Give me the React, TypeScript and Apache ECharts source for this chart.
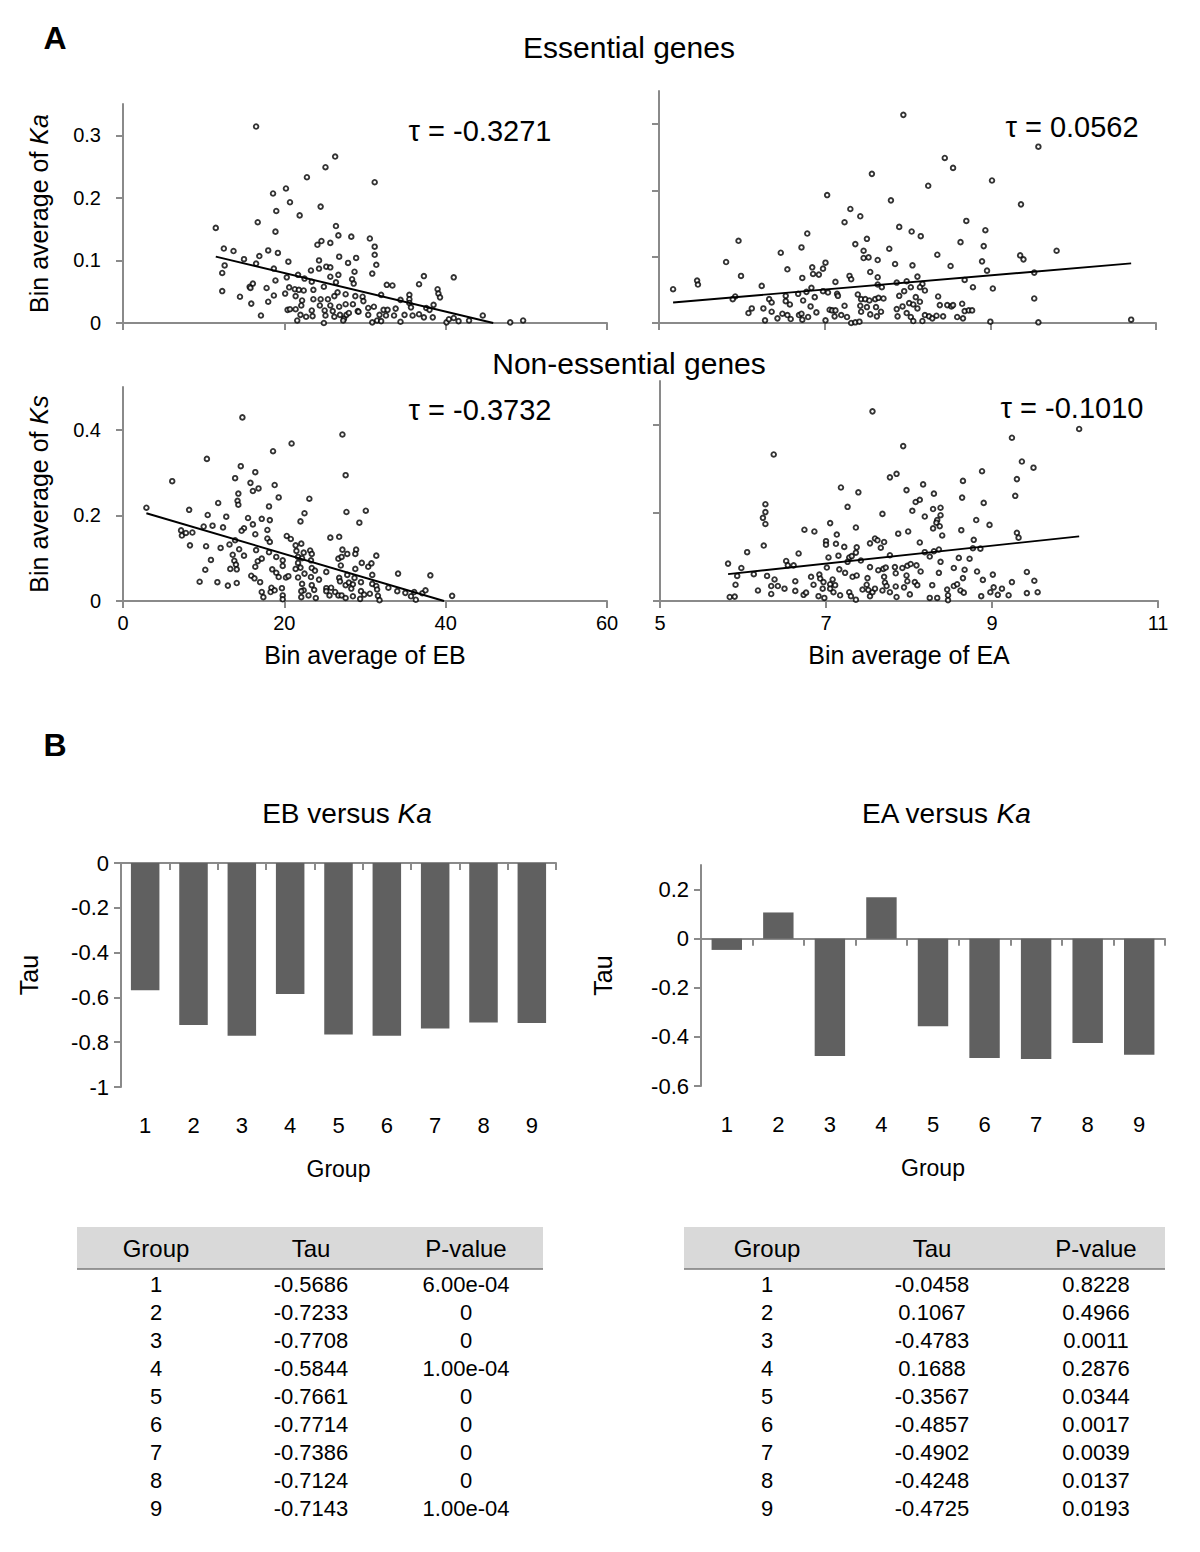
import React, { useEffect, useRef } from "react";
import * as echarts from "echarts";

// ---------- Panel A data ----------
const ebKaPoints: number[][] = [
  [16.5,0.314],[26.3,0.266],[25.1,0.249],[22.8,0.233],[20.2,0.215],[18.6,0.207],[20.7,0.193],[19.0,0.179],[24.5,0.186],[21.9,0.172],
  [16.7,0.161],[11.5,0.152],[26.4,0.155],[18.9,0.146],[26.7,0.140],[28.3,0.138],[24.6,0.131],[24.1,0.125],[25.7,0.128],[12.5,0.119],
  [13.7,0.115],[18.0,0.116],[19.2,0.112],[16.9,0.107],[15.0,0.102],[26.8,0.106],[28.9,0.104],[12.6,0.092],[16.5,0.095],[20.5,0.098],
  [24.3,0.100],[27.9,0.096],[12.3,0.080],[18.7,0.087],[23.3,0.084],[24.3,0.087],[25.2,0.090],[25.7,0.089],[28.7,0.082],[18.9,0.068],
  [20.3,0.073],[21.7,0.077],[22.5,0.071],[23.4,0.066],[24.9,0.058],[25.7,0.074],[26.7,0.077],[26.4,0.065],[28.4,0.070],[28.6,0.063],
  [12.3,0.051],[15.7,0.058],[16.1,0.063],[15.8,0.056],[17.8,0.056],[14.5,0.042],[18.7,0.044],[18.0,0.034],[15.9,0.031],[17.1,0.012],
  [20.1,0.047],[20.6,0.057],[21.3,0.054],[21.8,0.053],[22.4,0.052],[23.6,0.053],[21.4,0.043],[22.2,0.036],[23.6,0.038],[24.5,0.038],
  [25.4,0.038],[26.2,0.043],[26.6,0.049],[27.6,0.046],[28.8,0.043],[27.6,0.030],[20.4,0.021],[20.7,0.022],[21.4,0.022],[22.1,0.028],
  [22.0,0.013],[22.7,0.010],[23.4,0.020],[23.5,0.011],[21.6,0.004],[24.4,0.028],[25.0,0.020],[25.7,0.028],[24.9,0.000],[25.1,0.012],
  [26.0,0.019],[26.8,0.026],[26.2,0.010],[26.9,0.013],[27.4,0.007],[27.7,0.013],[28.0,0.016],[28.5,0.030],[29.1,0.019],[27.3,0.004],
  [31.2,0.225],[30.6,0.135],[31.2,0.122],[31.2,0.109],[31.4,0.093],[30.9,0.079],[32.7,0.061],[33.4,0.060],[37.3,0.075],[36.7,0.062],
  [39.0,0.054],[39.1,0.047],[39.3,0.041],[41.0,0.073],[32.0,0.045],[34.4,0.037],[35.5,0.045],[35.5,0.038],[35.5,0.032],[35.7,0.025],
  [29.7,0.042],[29.8,0.035],[31.1,0.026],[30.4,0.024],[32.3,0.021],[32.8,0.021],[33.8,0.023],[29.2,0.018],[30.4,0.013],[31.8,0.013],
  [32.6,0.012],[33.6,0.012],[34.9,0.013],[35.9,0.012],[36.7,0.014],[37.3,0.009],[37.6,0.024],[38.0,0.021],[38.5,0.029],[38.4,0.009],
  [30.9,0.001],[31.5,0.004],[32.0,0.003],[34.4,0.002],[40.1,0.001],[40.4,0.006],[41.0,0.008],[41.6,0.003],[42.9,0.004],[44.6,0.012],
  [48.0,0.001],[49.6,0.004]
];
const ebKaTrend: number[][] = [[11.5,0.106],[45.9,0.0]];

const eaKaPoints: number[][] = [
  [5.17,0.051],[5.46,0.064],[5.47,0.058],[5.81,0.092],[5.96,0.124],[5.99,0.071],[5.92,0.040],[5.89,0.036],[6.08,0.015],[6.12,0.022],
  [6.24,0.056],[6.26,0.022],[6.28,0.004],[6.33,0.036],[6.36,0.031],[6.36,0.017],[6.43,0.007],[6.47,0.106],[6.55,0.081],[6.53,0.041],
  [6.53,0.033],[6.58,0.028],[6.49,0.014],[6.55,0.012],[6.59,0.006],[6.72,0.114],[6.79,0.135],[6.73,0.068],[6.68,0.044],[6.74,0.034],
  [6.78,0.047],[6.69,0.012],[6.72,0.014],[6.73,0.005],[6.80,0.009],[6.85,0.084],[6.86,0.074],[6.84,0.053],[6.88,0.039],[6.83,0.025],
  [6.90,0.016],[6.93,0.073],[6.98,0.082],[7.01,0.091],[6.98,0.048],[7.04,0.046],[7.01,0.004],[7.06,0.020],[7.09,0.019],[7.03,0.193],
  [7.13,0.062],[7.13,0.019],[7.15,0.044],[7.16,0.041],[7.12,0.010],[7.20,0.012],[7.24,0.026],[7.27,0.009],[7.32,0.000],[7.37,0.001],
  [7.42,0.002],[7.24,0.152],[7.31,0.172],[7.30,0.071],[7.32,0.066],[7.37,0.119],[7.43,0.161],[7.40,0.043],[7.44,0.036],[7.43,0.026],
  [7.44,0.017],[7.47,0.109],[7.47,0.098],[7.53,0.099],[7.51,0.127],[7.57,0.225],[7.55,0.077],[7.49,0.036],[7.54,0.034],[7.51,0.024],
  [7.55,0.013],[7.64,0.095],[7.64,0.069],[7.64,0.058],[7.69,0.054],[7.61,0.036],[7.65,0.038],[7.71,0.037],[7.62,0.024],[7.68,0.017],
  [7.63,0.010],[7.78,0.112],[7.80,0.185],[7.85,0.089],[7.87,0.061],[7.90,0.145],[7.87,0.021],[7.88,0.010],[7.90,0.041],
  [7.95,0.314],[9.58,0.266],[8.45,0.249],[8.55,0.234],[9.02,0.215],[8.25,0.207],[9.37,0.179],[8.71,0.154],[8.05,0.138],[8.16,0.131],
  [8.94,0.140],[8.64,0.122],[8.92,0.116],[9.80,0.109],[8.36,0.103],[9.36,0.102],[9.40,0.096],[8.06,0.087],[8.52,0.086],[8.90,0.093],
  [8.96,0.079],[9.53,0.076],[8.12,0.070],[8.69,0.065],[7.99,0.063],[8.04,0.054],[8.18,0.059],[8.15,0.054],[8.21,0.049],[7.96,0.048],
  [8.10,0.039],[8.02,0.030],[8.15,0.032],[7.94,0.025],[8.07,0.028],[8.12,0.022],[8.37,0.040],[8.39,0.027],[8.48,0.027],[8.53,0.025],
  [8.55,0.027],[8.66,0.029],[8.79,0.054],[9.03,0.052],[9.53,0.037],[8.69,0.018],[8.74,0.019],[8.78,0.019],[7.99,0.015],[8.04,0.009],
  [8.07,0.003],[8.18,0.003],[8.21,0.012],[8.26,0.010],[8.30,0.007],[8.35,0.011],[8.43,0.010],[8.60,0.009],[8.67,0.007],[9.00,0.002],
  [9.58,0.001],[10.70,0.005]
];
const eaKaTrend: number[][] = [[5.17,0.031],[10.70,0.090]];

const ebKsPoints: number[][] = [
  [14.8,0.429],[27.2,0.389],[20.9,0.368],[18.6,0.350],[10.4,0.332],[14.6,0.315],[16.4,0.301],[27.6,0.294],[6.1,0.280],[13.9,0.287],
  [15.8,0.276],[16.8,0.263],[16.1,0.257],[18.8,0.271],[14.3,0.251],[14.2,0.234],[14.3,0.225],[11.8,0.229],[19.3,0.242],[18.1,0.221],
  [23.1,0.239],[22.5,0.205],[22.0,0.186],[27.7,0.208],[2.9,0.218],[8.2,0.213],[10.5,0.201],[12.8,0.197],[15.5,0.194],[16.1,0.179],
  [17.2,0.192],[18.2,0.189],[10.0,0.174],[11.1,0.176],[12.4,0.172],[15.0,0.170],[16.4,0.156],[17.9,0.166],[7.2,0.165],[7.3,0.153],
  [7.8,0.159],[8.6,0.160],[14.7,0.164],[8.3,0.130],[10.3,0.128],[12.1,0.124],[13.2,0.132],[13.9,0.142],[14.4,0.121],[17.9,0.146],
  [18.2,0.138],[16.5,0.119],[13.6,0.108],[15.0,0.106],[10.9,0.096],[10.2,0.073],[13.8,0.094],[14.0,0.085],[13.3,0.075],[14.1,0.074],
  [9.5,0.045],[11.7,0.044],[13.0,0.036],[14.1,0.042],[16.7,0.093],[17.2,0.099],[16.4,0.080],[15.9,0.059],[16.3,0.053],[17.0,0.044],
  [17.2,0.021],[17.4,0.009],[18.1,0.114],[19.0,0.103],[19.8,0.095],[19.8,0.082],[18.5,0.074],[19.0,0.066],[19.3,0.056],[18.4,0.031],
  [18.3,0.021],[18.8,0.025],[19.7,0.030],[19.8,0.013],[19.8,0.004],[20.2,0.055],[20.5,0.058],[20.3,0.152],[20.8,0.145],[21.4,0.130],
  [22.1,0.134],[21.5,0.117],[21.7,0.103],[22.2,0.100],[22.4,0.113],[23.2,0.118],[23.4,0.110],[23.3,0.095],[21.7,0.089],[22.0,0.078],
  [22.5,0.064],[21.4,0.075],[21.7,0.055],[23.4,0.077],[23.8,0.071],[23.3,0.056],[24.3,0.050],[22.2,0.040],[23.4,0.037],[23.7,0.026],
  [23.0,0.013],[22.1,0.009],[22.4,0.025],[22.1,0.023],[23.9,0.007],[25.7,0.148],[26.8,0.150],[27.2,0.120],[27.8,0.110],[26.7,0.099],
  [27.1,0.103],[27.0,0.083],[28.9,0.120],[28.8,0.110],[29.3,0.183],[28.8,0.075],[25.2,0.068],[26.8,0.054],[26.9,0.046],[27.8,0.061],
  [28.7,0.054],[25.2,0.030],[25.2,0.023],[25.8,0.031],[26.3,0.021],[25.6,0.013],[26.7,0.013],[27.1,0.013],[27.6,0.037],[28.0,0.043],
  [28.5,0.039],[28.3,0.029],[28.5,0.011],[27.6,0.007],
  [30.1,0.211],[31.4,0.106],[29.6,0.089],[30.4,0.080],[30.8,0.088],[30.9,0.061],[34.1,0.064],[38.1,0.060],[29.5,0.044],[30.9,0.040],
  [31.4,0.035],[29.5,0.023],[29.9,0.015],[30.6,0.017],[31.5,0.027],[31.6,0.012],[31.8,0.002],[29.4,0.005],[32.9,0.031],[34.0,0.023],
  [35.0,0.019],[35.7,0.011],[36.1,0.021],[36.3,0.003],[37.1,0.018],[37.5,0.025],[40.8,0.012]
];
const ebKsTrend: number[][] = [[2.9,0.205],[39.8,0.0]];

const eaKsPoints: number[][] = [
  [7.56,0.431],[6.37,0.333],[7.85,0.289],[7.77,0.281],[7.18,0.258],[7.39,0.247],[7.26,0.214],[7.68,0.198],[6.27,0.220],[6.27,0.202],
  [6.24,0.189],[6.27,0.175],[6.25,0.126],[7.05,0.177],[6.74,0.162],[6.86,0.158],[7.36,0.167],[7.13,0.151],[7.00,0.136],[7.00,0.128],
  [7.12,0.130],[7.22,0.123],[7.37,0.122],[7.53,0.131],[7.59,0.142],[7.62,0.138],[7.70,0.134],[7.66,0.121],[7.87,0.153],[6.05,0.111],
  [6.67,0.108],[5.82,0.085],[5.98,0.075],[5.93,0.057],[5.91,0.037],[5.84,0.009],[5.90,0.010],[6.13,0.061],[6.18,0.024],[6.29,0.057],
  [6.34,0.034],[6.34,0.016],[6.38,0.049],[6.42,0.034],[6.50,0.028],[6.52,0.091],[6.54,0.081],[6.61,0.081],[6.63,0.045],[6.63,0.023],
  [6.73,0.014],[6.76,0.019],[6.82,0.055],[6.85,0.037],[6.92,0.060],[6.93,0.051],[6.97,0.043],[6.96,0.028],[6.91,0.011],[6.98,0.007],
  [7.01,0.076],[7.03,0.099],[7.05,0.038],[7.08,0.049],[7.05,0.028],[7.11,0.036],[7.09,0.020],[7.17,0.013],[7.15,0.103],[7.16,0.072],
  [7.23,0.064],[7.28,0.099],[7.31,0.102],[7.36,0.110],[7.26,0.089],[7.32,0.055],[7.37,0.058],[7.28,0.020],[7.30,0.011],[7.36,0.003],
  [7.42,0.092],[7.44,0.026],[7.50,0.052],[7.49,0.037],[7.53,0.077],[7.51,0.025],[7.53,0.011],[7.56,0.020],[7.59,0.028],[7.63,0.070],
  [7.69,0.073],[7.72,0.076],[7.70,0.055],[7.71,0.042],[7.73,0.034],[7.68,0.024],[7.77,0.020],[7.84,0.033],[7.83,0.077],[7.84,0.063],
  [7.85,0.009],[7.77,0.104],
  [10.05,0.391],[9.24,0.371],[7.93,0.352],[9.36,0.317],[9.50,0.303],[8.88,0.295],[9.30,0.277],[8.65,0.273],[8.17,0.265],[7.97,0.252],
  [8.30,0.244],[9.28,0.239],[8.64,0.235],[8.08,0.225],[8.13,0.230],[8.90,0.223],[8.04,0.205],[8.29,0.209],[8.38,0.212],[8.38,0.195],
  [8.19,0.192],[8.34,0.184],[8.33,0.178],[8.37,0.170],[8.29,0.165],[8.81,0.184],[8.97,0.173],[8.63,0.161],[7.99,0.158],[8.40,0.149],
  [9.30,0.155],[9.32,0.144],[8.78,0.139],[8.13,0.133],[8.19,0.111],[8.25,0.101],[8.30,0.113],[8.36,0.117],[8.77,0.120],[8.86,0.119],
  [7.92,0.075],[7.98,0.080],[8.02,0.084],[8.09,0.081],[8.14,0.067],[7.97,0.058],[7.98,0.045],[8.07,0.043],[8.10,0.036],[7.94,0.031],
  [8.01,0.015],[8.38,0.089],[8.36,0.064],[8.28,0.036],[8.25,0.007],[8.34,0.007],[8.46,0.026],[8.47,0.013],[8.47,0.002],[8.54,0.034],
  [8.58,0.038],[8.60,0.098],[8.54,0.075],[8.67,0.071],[8.65,0.052],[8.73,0.096],[8.62,0.024],[8.66,0.019],[8.82,0.067],[8.89,0.048],
  [9.01,0.060],[8.87,0.011],[8.98,0.020],[9.02,0.031],[9.07,0.014],[9.12,0.028],[9.20,0.013],[9.24,0.043],[9.42,0.066],[9.51,0.046],
  [9.42,0.018],[9.55,0.020]
];
const eaKsTrend: number[][] = [[5.82,0.061],[10.05,0.147]];

const tauLabels = ["τ = -0.3271", "τ = 0.0562", "τ = -0.3732", "τ = -0.1010"];

const ebTicks = [0, 20, 40, 60];
const eaTicks = [5, 7, 9, 11];
const kaTicks = [0, 0.1, 0.2, 0.3];
const ksTicks = [0, 0.2, 0.4];

// ---------- Panel B data ----------
const groups = ["1", "2", "3", "4", "5", "6", "7", "8", "9"];
const ebTau = [-0.5686, -0.7233, -0.7708, -0.5844, -0.7661, -0.7714, -0.7386, -0.7124, -0.7143];
const ebP = ["6.00e-04", "0", "0", "1.00e-04", "0", "0", "0", "0", "1.00e-04"];
const eaTau = [-0.0458, 0.1067, -0.4783, 0.1688, -0.3567, -0.4857, -0.4902, -0.4248, -0.4725];
const eaP = ["0.8228", "0.4966", "0.0011", "0.2876", "0.0344", "0.0017", "0.0039", "0.0137", "0.0193"];
const ebBarTicks = [-1, -0.8, -0.6, -0.4, -0.2, 0];
const eaBarTicks = [-0.6, -0.4, -0.2, 0, 0.2];
const tableHeaders = ["Group", "Tau", "P-value"];

const FONT = "'Liberation Sans', Arial, Helvetica, sans-serif";
const GRAY = "#8a8a8a";
const axisLine = { show: true, onZero: false, lineStyle: { color: GRAY, width: 2 } };

function valueX(grid: number, min: number, max: number, ticks: number[], labels: boolean, name?: string) {
  return {
    type: "value", gridIndex: grid, min, max, position: "bottom",
    axisLine,
    axisTick: { show: true, length: 7, customValues: ticks, lineStyle: { color: GRAY, width: 2 } },
    axisLabel: { show: labels, customValues: ticks, fontSize: 20, color: "#000", fontFamily: FONT, margin: 12 },
    splitLine: { show: false },
    name: name || "", nameLocation: "middle", nameGap: 41,
    nameTextStyle: { fontSize: 25, color: "#000", fontFamily: FONT },
  };
}
function valueY(grid: number, min: number, max: number, ticks: number[], labels: boolean, name?: string, nameGap = 72, fontSize = 20, margin = 22) {
  return {
    type: "value", gridIndex: grid, min, max,
    axisLine,
    axisTick: { show: true, length: 7, customValues: ticks, lineStyle: { color: GRAY, width: 2 } },
    axisLabel: { show: labels, customValues: ticks, fontSize, color: "#000", fontFamily: FONT, margin },
    splitLine: { show: false },
    name: name || "", nameLocation: "middle", nameGap,
    nameTextStyle: {
      fontSize: 25, color: "#000", fontFamily: FONT,
      rich: { i: { fontSize: 25, fontStyle: "italic", color: "#000", fontFamily: FONT } },
    },
  };
}
function scatter(idx: number, data: number[][]) {
  return {
    type: "scatter", xAxisIndex: idx, yAxisIndex: idx, data, symbol: "circle", symbolSize: 4.6,
    itemStyle: { color: "#ffffff", borderColor: "#000000", borderWidth: 1.9 }, silent: true, z: 3,
  };
}
function trend(idx: number, data: number[][]) {
  return {
    type: "line", xAxisIndex: idx, yAxisIndex: idx, data, showSymbol: false, symbol: "none",
    lineStyle: { color: "#000", width: 1.9 }, silent: true, z: 4,
  };
}
function catAxes(grid: number) {
  return [
    {
      type: "category", gridIndex: grid, data: groups, position: "bottom",
      axisLine: { show: false, onZero: false }, axisTick: { show: false },
      axisLabel: { fontSize: 22, color: "#000", fontFamily: FONT, margin: 27 },
      name: "Group", nameLocation: "middle", nameGap: 70,
      nameTextStyle: { fontSize: 23, color: "#000", fontFamily: FONT },
    },
    {
      type: "category", gridIndex: grid, data: groups, position: "bottom",
      axisLine: { show: true, onZero: true, lineStyle: { color: GRAY, width: 2 } },
      axisTick: { show: true, length: 7, lineStyle: { color: GRAY, width: 2 } },
      axisLabel: { show: false },
    },
  ];
}
function txt(x: number, y: number, text: string, fontSize: number, extra: any = {}) {
  return {
    type: "text", x, y, silent: true,
    style: { text, fontSize, fontFamily: FONT, fill: "#000", align: "center", verticalAlign: "middle", ...extra },
  };
}
function table(x0: number, x1: number, cols: number[], tau: number[], p: string[]) {
  const els: any[] = [
    { type: "rect", shape: { x: x0, y: 1227, width: x1 - x0, height: 42 }, style: { fill: "#d9d9d9" }, silent: true },
    { type: "line", shape: { x1: x0, y1: 1269, x2: x1, y2: 1269 }, style: { stroke: "#7a7a7a", lineWidth: 1.5 }, silent: true },
  ];
  tableHeaders.forEach((h, i) => els.push(txt(cols[i], 1248, h, 24)));
  groups.forEach((g, r) => {
    const y = 1284 + r * 28;
    els.push(txt(cols[0], y, g, 22));
    els.push(txt(cols[1], y, tau[r].toFixed(4), 22));
    els.push(txt(cols[2], y, p[r], 22));
  });
  return els;
}

export default function App() {
  const ref = useRef<HTMLDivElement>(null);
  useEffect(() => {
    const chart = echarts.init(ref.current!, null, { renderer: "svg", width: 1200, height: 1552 });
    const richI = { i: { fontStyle: "italic", fontSize: 28, fontFamily: FONT, fill: "#000" } };
    const option: any = {
      animation: false,
      backgroundColor: "#ffffff",
      grid: [
        { left: 123, top: 104, width: 484, height: 219 },
        { left: 659, top: 91, width: 497, height: 232 },
        { left: 123, top: 387, width: 484, height: 214 },
        { left: 660, top: 381, width: 498, height: 220 },
        { left: 121, top: 863, width: 435, height: 224 },
        { left: 701, top: 865, width: 464, height: 221 },
      ],
      xAxis: [
        valueX(0, 0, 60, ebTicks, false),
        valueX(1, 5, 11, eaTicks, false),
        valueX(2, 0, 60, ebTicks, true, "Bin average of EB"),
        valueX(3, 5, 11, eaTicks, true, "Bin average of EA"),
        ...catAxes(4),
        ...catAxes(5),
      ],
      yAxis: [
        valueY(0, 0, 0.35, kaTicks, true, "Bin average of {i|Ka}"),
        valueY(1, 0, 0.35, kaTicks, false),
        valueY(2, 0, 0.5, ksTicks, true, "Bin average of {i|Ks}"),
        valueY(3, 0, 0.5, ksTicks, false),
        valueY(4, -1, 0, ebBarTicks, true, "Tau", 80, 22, 12),
        valueY(5, -0.6, 0.3, eaBarTicks, true, "Tau", 86, 22, 12),
      ],
      series: [
        scatter(0, ebKaPoints), trend(0, ebKaTrend),
        scatter(1, eaKaPoints), trend(1, eaKaTrend),
        scatter(2, ebKsPoints), trend(2, ebKsTrend),
        scatter(3, eaKsPoints), trend(3, eaKsTrend),
        {
          type: "bar", xAxisIndex: 4, yAxisIndex: 4, data: ebTau, barCategoryGap: "41%",
          itemStyle: { color: "#606060" }, silent: true,
        },
        {
          type: "bar", xAxisIndex: 6, yAxisIndex: 5, data: eaTau, barCategoryGap: "41%",
          itemStyle: { color: "#606060" }, silent: true,
        },
      ],
      graphic: [
        txt(55, 38, "A", 32, { fontWeight: "bold" }),
        txt(629, 47, "Essential genes", 30),
        txt(629, 363, "Non-essential genes", 30),
        txt(480, 131, tauLabels[0], 29),
        txt(1072, 127, tauLabels[1], 29),
        txt(480, 410, tauLabels[2], 29),
        txt(1072, 408, tauLabels[3], 29),
        txt(55, 745, "B", 32, { fontWeight: "bold" }),
        txt(347, 813, "EB versus {i|Ka}", 28, { rich: richI }),
        txt(946, 813, "EA versus {i|Ka}", 28, { rich: richI }),
        ...table(77, 543, [156, 311, 466], ebTau, ebP),
        ...table(684, 1165, [767, 932, 1096], eaTau, eaP),
      ],
    };
    chart.setOption(option);
    return () => chart.dispose();
  }, []);
  return <div ref={ref} style={{ position: "absolute", left: 0, top: 0, width: 1200, height: 1552 }} />;
}
